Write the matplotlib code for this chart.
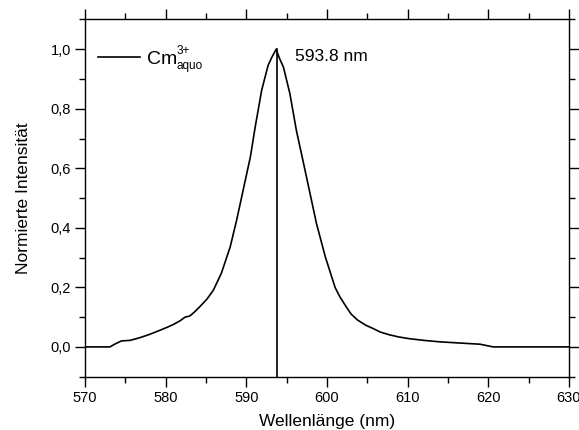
import numpy as np
import matplotlib
matplotlib.use("Agg")
import matplotlib.pyplot as plt
from matplotlib.ticker import MultipleLocator, FuncFormatter

plt.rcParams['font.family'] = ['Liberation Sans', 'DejaVu Sans']

# Wellenlaenge (nm) und normierte Intensitaet
wl = [570.0, 573.1, 573.6, 574.5, 575.6, 576.8, 578.0, 579.3, 580.2, 581.0,
      581.8, 582.4, 583.0, 583.6, 584.3, 585.1, 585.9, 586.9, 588.0, 588.8,
      589.6, 590.5, 591.1, 591.9, 592.7, 593.2, 593.7, 594.1, 594.6, 595.4,
      596.2, 597.1, 597.9, 598.7, 599.8, 601.0, 601.6, 602.4, 603.0, 603.8,
      604.8, 605.7, 606.6, 607.7, 608.8, 610.1, 612.0, 614.0, 616.5, 619.0,
      620.6, 630.0]
inten = [0.0, 0.0, 0.008, 0.02, 0.022, 0.031, 0.042, 0.056, 0.066, 0.076,
         0.088, 0.10, 0.104, 0.118, 0.137, 0.16, 0.19, 0.247, 0.336, 0.426,
         0.526, 0.638, 0.739, 0.862, 0.946, 0.975, 1.0, 0.97, 0.94, 0.851,
         0.728, 0.616, 0.515, 0.414, 0.302, 0.2, 0.168, 0.134, 0.11, 0.09,
         0.073, 0.062, 0.05, 0.041, 0.034, 0.028, 0.022, 0.017, 0.013, 0.009,
         0.0, 0.0]
peak = 593.8
peak_label = "593.8 nm"

fig = plt.figure(figsize=(5.79, 4.30), dpi=100)
ax = fig.add_axes([0.1468, 0.124, 0.8359, 0.8307])

ax.plot(wl, inten, color="black", lw=1.2)
ax.plot([peak, peak], [-0.1, 1.0], color="black", lw=1.2)

ax.set_xlim(570, 630)
ax.set_ylim(-0.1, 1.1)
ax.xaxis.set_major_locator(MultipleLocator(10))
ax.xaxis.set_minor_locator(MultipleLocator(5))
ax.yaxis.set_major_locator(MultipleLocator(0.2))
ax.yaxis.set_minor_locator(MultipleLocator(0.1))
ax.yaxis.set_major_formatter(FuncFormatter(lambda v, p: ("%.1f" % v).replace(".", ",")))
ax.tick_params(which="both", direction="out", top=True, right=True,
               labelsize=10.5, width=1, pad=3)
ax.tick_params(which="major", length=7)
ax.tick_params(which="minor", length=4)
for s in ax.spines.values():
    s.set_linewidth(1)

ax.set_xlabel("Wellenlänge (nm)", fontsize=12.5, labelpad=7)
ax.set_ylabel("Normierte Intensität", fontsize=12.5, labelpad=14)

# Legende von Hand
ax.plot([571.65, 576.8], [0.974, 0.974], color="black", lw=1.2)
ax.text(577.7, 0.952, "Cm", fontsize=14, va="baseline", ha="left")
ax.text(581.4, 0.985, "3+", fontsize=8.5, va="baseline", ha="left")
ax.text(581.4, 0.933, "aquo", fontsize=8.5, va="baseline", ha="left")

ax.text(596.0, 0.976, peak_label, fontsize=12.5, va="center", ha="left")

fig.savefig("out.png", dpi=100)
